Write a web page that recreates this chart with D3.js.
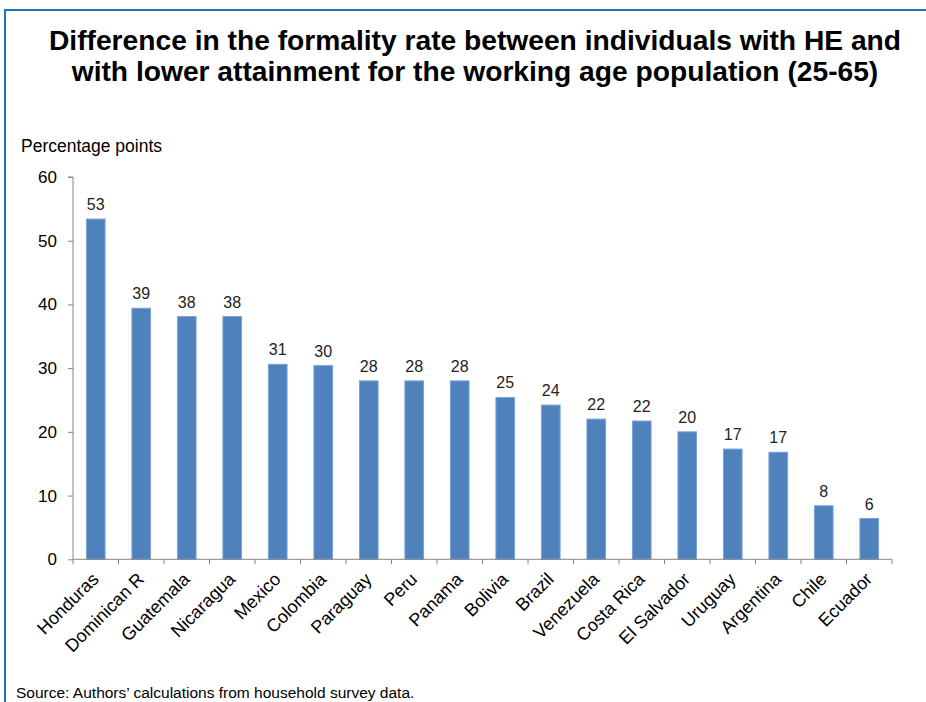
<!DOCTYPE html>
<html><head><meta charset="utf-8">
<script src="https://cdn.jsdelivr.net/npm/d3@7"></script>
<style>body{margin:0;background:#fff;} svg{display:block;font-family:"Liberation Sans",Arial,sans-serif;}</style>
</head><body>
<script>
const categories = ["Honduras","Dominican R","Guatemala","Nicaragua","Mexico","Colombia","Paraguay","Peru","Panama","Bolivia","Brazil","Venezuela","Costa Rica","El Salvador","Uruguay","Argentina","Chile","Ecuador"];
const values = [53.4,39.4,38.1,38.1,30.6,30.4,28.0,28.0,28.0,25.4,24.2,22.0,21.7,20.0,17.3,16.8,8.4,6.4];
const yTicks = [0,10,20,30,40,50,60];
const titleLines = ["Difference in the formality rate between individuals with HE and","with lower attainment for the working age population (25-65)"];
const yAxisTitle = "Percentage points";
const sourceNote = "Source: Authors’ calculations from household survey data.";

const W = 926, H = 702;
const svg = d3.select("body").append("svg").attr("width", W).attr("height", H);

// frame
svg.append("path").attr("d", `M5,${H} L5,10 L${W},10`).attr("fill","none").attr("stroke","#1F72BF").attr("stroke-width",2);

// title
svg.append("g").selectAll("text").data(titleLines).join("text")
  .attr("x", 475).attr("y", (d,i)=>49.5 + i*31.5)
  .attr("text-anchor","middle").attr("font-size",28.2).attr("font-weight","bold").attr("fill","#000")
  .text(d=>d);

const x0 = 73, x1 = 892, y0 = 559.3, y1 = 177;
const x = d3.scaleBand().domain(categories).range([x0, x1]).paddingInner(0.59).paddingOuter(0.295);
const xb = d3.scaleBand().domain(categories).range([x0, x1]);
const y = d3.scaleLinear().domain([0,60]).range([y0, y1]);

// y axis
const ya = svg.append("g").attr("transform",`translate(${x0},0)`)
  .call(d3.axisLeft(y).tickValues(yTicks).tickSize(5).tickPadding(11));
ya.select(".domain").attr("stroke","#868686").attr("d",`M-5,${y1}H0V${y0}`);
ya.selectAll(".tick line").attr("stroke","#868686");
ya.selectAll(".tick text").attr("font-size",17).attr("fill","#000").attr("font-family","Liberation Sans, Arial, sans-serif");

// bars
svg.append("g").selectAll("rect").data(values).join("rect")
  .attr("x",(d,i)=>x(categories[i])).attr("width",x.bandwidth())
  .attr("y",d=>y(d)).attr("height",d=>y0 - y(d))
  .attr("fill","#4F81BD").attr("stroke","#7BA3D6").attr("stroke-width",1);

// labels
svg.append("g").selectAll("text").data(values).join("text")
  .attr("x",(d,i)=>x(categories[i]) + x.bandwidth()/2).attr("y",d=>y(d)-9)
  .attr("text-anchor","middle").attr("font-size",16).attr("fill","#222")
  .text(d=>Math.round(d));

// x axis
const xa = svg.append("g").attr("transform",`translate(0,${y0})`)
  .call(d3.axisBottom(xb).tickSize(0).tickFormat(""));
xa.select(".domain").attr("stroke","#868686").attr("d",`M${x0},0H${x1}`);
xa.selectAll(".tick").remove();
const bounds = categories.map(c=>xb(c)).concat([x1]);
xa.append("g").selectAll("line").data(bounds).join("line")
  .attr("x1",d=>d).attr("x2",d=>d).attr("y1",0).attr("y2",5).attr("stroke","#868686");

svg.append("g").selectAll("text").data(categories).join("text")
  .attr("transform",d=>`translate(${xb(d)+xb.bandwidth()/2+4},${y0+21}) rotate(-45)`)
  .attr("text-anchor","end").attr("font-size",18).attr("fill","#000")
  .text(d=>d);

// axis title
svg.append("text").attr("x",21).attr("y",151.5).attr("font-size",17.5).attr("fill","#000").text(yAxisTitle);

// source
svg.append("text").attr("x",16).attr("y",698).attr("font-size",15.5).attr("fill","#000").text(sourceNote);
</script>
</body></html>
